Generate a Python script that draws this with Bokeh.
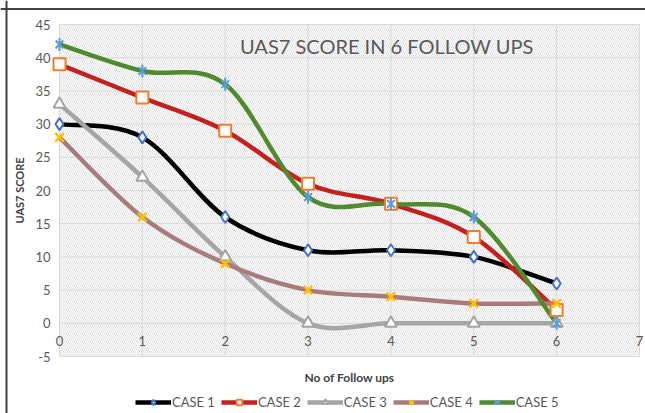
import math
from bokeh.plotting import figure
from bokeh.models import (Range1d, Legend, LegendItem, Label, ColumnDataSource, Span)
from bokeh.embed import file_html
from bokeh.resources import INLINE

follow_ups = [0, 1, 2, 3, 4, 5, 6]
case1 = [30, 28, 16, 11, 11, 10, 6]
case2 = [39, 34, 29, 21, 18, 13, 2]
case3 = [33, 22, 10, 0, 0, 0, 0]
case4 = [28, 16, 9, 5, 4, 3, 3]
case5 = [42, 38, 36, 19, 18, 16, 0]
names = ["CASE 1", "CASE 2", "CASE 3", "CASE 4", "CASE 5"]
x_ticks = [0, 1, 2, 3, 4, 5, 6, 7]
y_ticks = [-5, 0, 5, 10, 15, 20, 25, 30, 35, 40, 45]

line_colors = ["#000000", "#c4201f", "#a5a5a5", "#a87c7c", "#4f8a2f"]
marker_colors = ["#4472c4", "#ed7d31", "#a5a5a5", "#ffc000", "#5b9bd5"]

FONT = "Lato"
TXT = "#595959"

# ---- layout (pixels) ----
W, H = 645, 413
PL, PR, PT, PB = 59, 639, 24, 356     # plot area edges on the canvas
xmin, xmax = min(x_ticks), max(x_ticks)
ymin, ymax = min(y_ticks), max(y_ticks)
sx = (PR - PL) / (xmax - xmin)
sy = (PB - PT) / (ymax - ymin)

p = figure(width=W, height=H, output_backend="svg", toolbar_location=None,
           x_range=Range1d(xmin - PL / sx, xmax + (W - PR) / sx),
           y_range=Range1d(ymin - (H - PB) / sy, ymax + PT / sy),
           min_border_left=0, min_border_right=0, min_border_top=0, min_border_bottom=0,
           background_fill_color="white", border_fill_color="white",
           outline_line_color=None)
p.axis.visible = False
p.grid.visible = False

# hatched plot area
p.quad(left=[xmin], right=[xmax], bottom=[ymin], top=[ymax],
       fill_color="white", line_color=None, hatch_pattern="\\", hatch_color="#e0e0e0",
       hatch_scale=4, hatch_weight=1)

# grid lines
p.segment(x0=x_ticks, y0=[ymin] * len(x_ticks), x1=x_ticks, y1=[ymax] * len(x_ticks),
          line_color="#d9d9d9", line_width=1)
p.segment(x0=[xmin] * len(y_ticks), y0=y_ticks, x1=[xmax] * len(y_ticks), y1=y_ticks,
          line_color="#d9d9d9", line_width=1)

# chart border (top and left edges of the chart box)
p.add_layout(Span(location=p.y_range.end - 8.5 / sy, dimension="width",
                  line_color="#404040", line_width=2))
p.add_layout(Span(location=p.x_range.start + 6 / sx, dimension="height",
                  line_color="#404040", line_width=2))


def smooth(xs, ys):
    n = len(xs)
    out = dict(x0=[], y0=[], x1=[], y1=[], cx0=[], cy0=[], cx1=[], cy1=[])
    for i in range(n - 1):
        im1 = max(i - 1, 0)
        ip2 = min(i + 2, n - 1)
        out["x0"].append(xs[i]); out["y0"].append(ys[i])
        out["x1"].append(xs[i + 1]); out["y1"].append(ys[i + 1])
        out["cx0"].append(xs[i] + (xs[i + 1] - xs[im1]) / 6)
        out["cy0"].append(ys[i] + (ys[i + 1] - ys[im1]) / 6)
        out["cx1"].append(xs[i + 1] - (xs[ip2] - xs[i]) / 6)
        out["cy1"].append(ys[i + 1] - (ys[ip2] - ys[i]) / 6)
    return out


series = [case1, case2, case3, case4, case5]
line_rs = []
for k, ys in enumerate(series):
    src = ColumnDataSource(smooth(follow_ups, ys))
    line_rs.append(p.bezier(x0="x0", y0="y0", x1="x1", y1="y1", cx0="cx0", cy0="cy0",
                            cx1="cx1", cy1="cy1", source=src,
                            line_color=line_colors[k], line_width=4.5))

marker_rs = []
marker_rs.append([p.scatter(follow_ups, case1, marker="diamond", size=12, line_color=marker_colors[0],
                            fill_color="white", line_width=2)])
marker_rs.append([p.scatter(follow_ups, case2, marker="square", size=12, line_color=marker_colors[1],
                            fill_color="white", line_width=2)])
marker_rs.append([p.scatter(follow_ups, case3, marker="triangle", size=12, line_color=marker_colors[2],
                            fill_color="white", line_width=2)])
marker_rs.append([p.scatter(follow_ups, case4, marker="x", size=12, line_color=marker_colors[3],
                            line_width=2.5)])
marker_rs.append([p.scatter(follow_ups, case5, marker="x", size=11, line_color=marker_colors[4],
                            line_width=2),
                  p.scatter(follow_ups, case5, marker="dash", size=13, angle=math.pi / 2,
                            line_color=marker_colors[4], line_width=2)])

# x tick labels just under the y = 0 line
for t in x_ticks:
    p.add_layout(Label(x=t, y=0, y_offset=-18, text=str(t), text_align="center",
                       text_baseline="middle", text_font=FONT, text_font_size="13px",
                       text_color=TXT))
# y tick labels left of the plot area
for t in y_ticks:
    p.add_layout(Label(x=xmin, y=t, x_offset=-9, text=str(t), text_align="right",
                       text_baseline="middle", text_font=FONT, text_font_size="13px",
                       text_color=TXT))

# axis titles
p.add_layout(Label(x=xmin, y=(ymin + ymax) / 2, x_offset=-40, text="UAS7 SCORE", angle=math.pi / 2,
                   text_align="center", text_baseline="middle", text_font=FONT,
                   text_font_size="11px", text_font_style="bold", text_color="#404040"))
p.add_layout(Label(x=(xmin + xmax) / 2, y=ymin, y_offset=-21, text="No of Follow ups",
                   text_align="center", text_baseline="middle", text_font=FONT,
                   text_font_size="12px", text_font_style="bold", text_color="#404040"))

# chart title
p.add_layout(Label(x=3.95, y=41.8, text="UAS7 SCORE IN 6 FOLLOW UPS", text_align="center",
                   text_baseline="middle", text_font=FONT, text_font_size="20px",
                   text_color=TXT))

legend_items = [LegendItem(label=names[k], renderers=[line_rs[k]] + marker_rs[k]) for k in range(5)]
legend = Legend(items=legend_items, orientation="horizontal", location=(135, 3),
                label_text_font=FONT, label_text_font_size="13px", label_text_color=TXT,
                glyph_width=36, glyph_height=14, label_standoff=1, spacing=6,
                border_line_color=None, background_fill_alpha=0, padding=2, margin=0)
p.add_layout(legend)

open("out.html", "w").write(file_html(p, INLINE))
